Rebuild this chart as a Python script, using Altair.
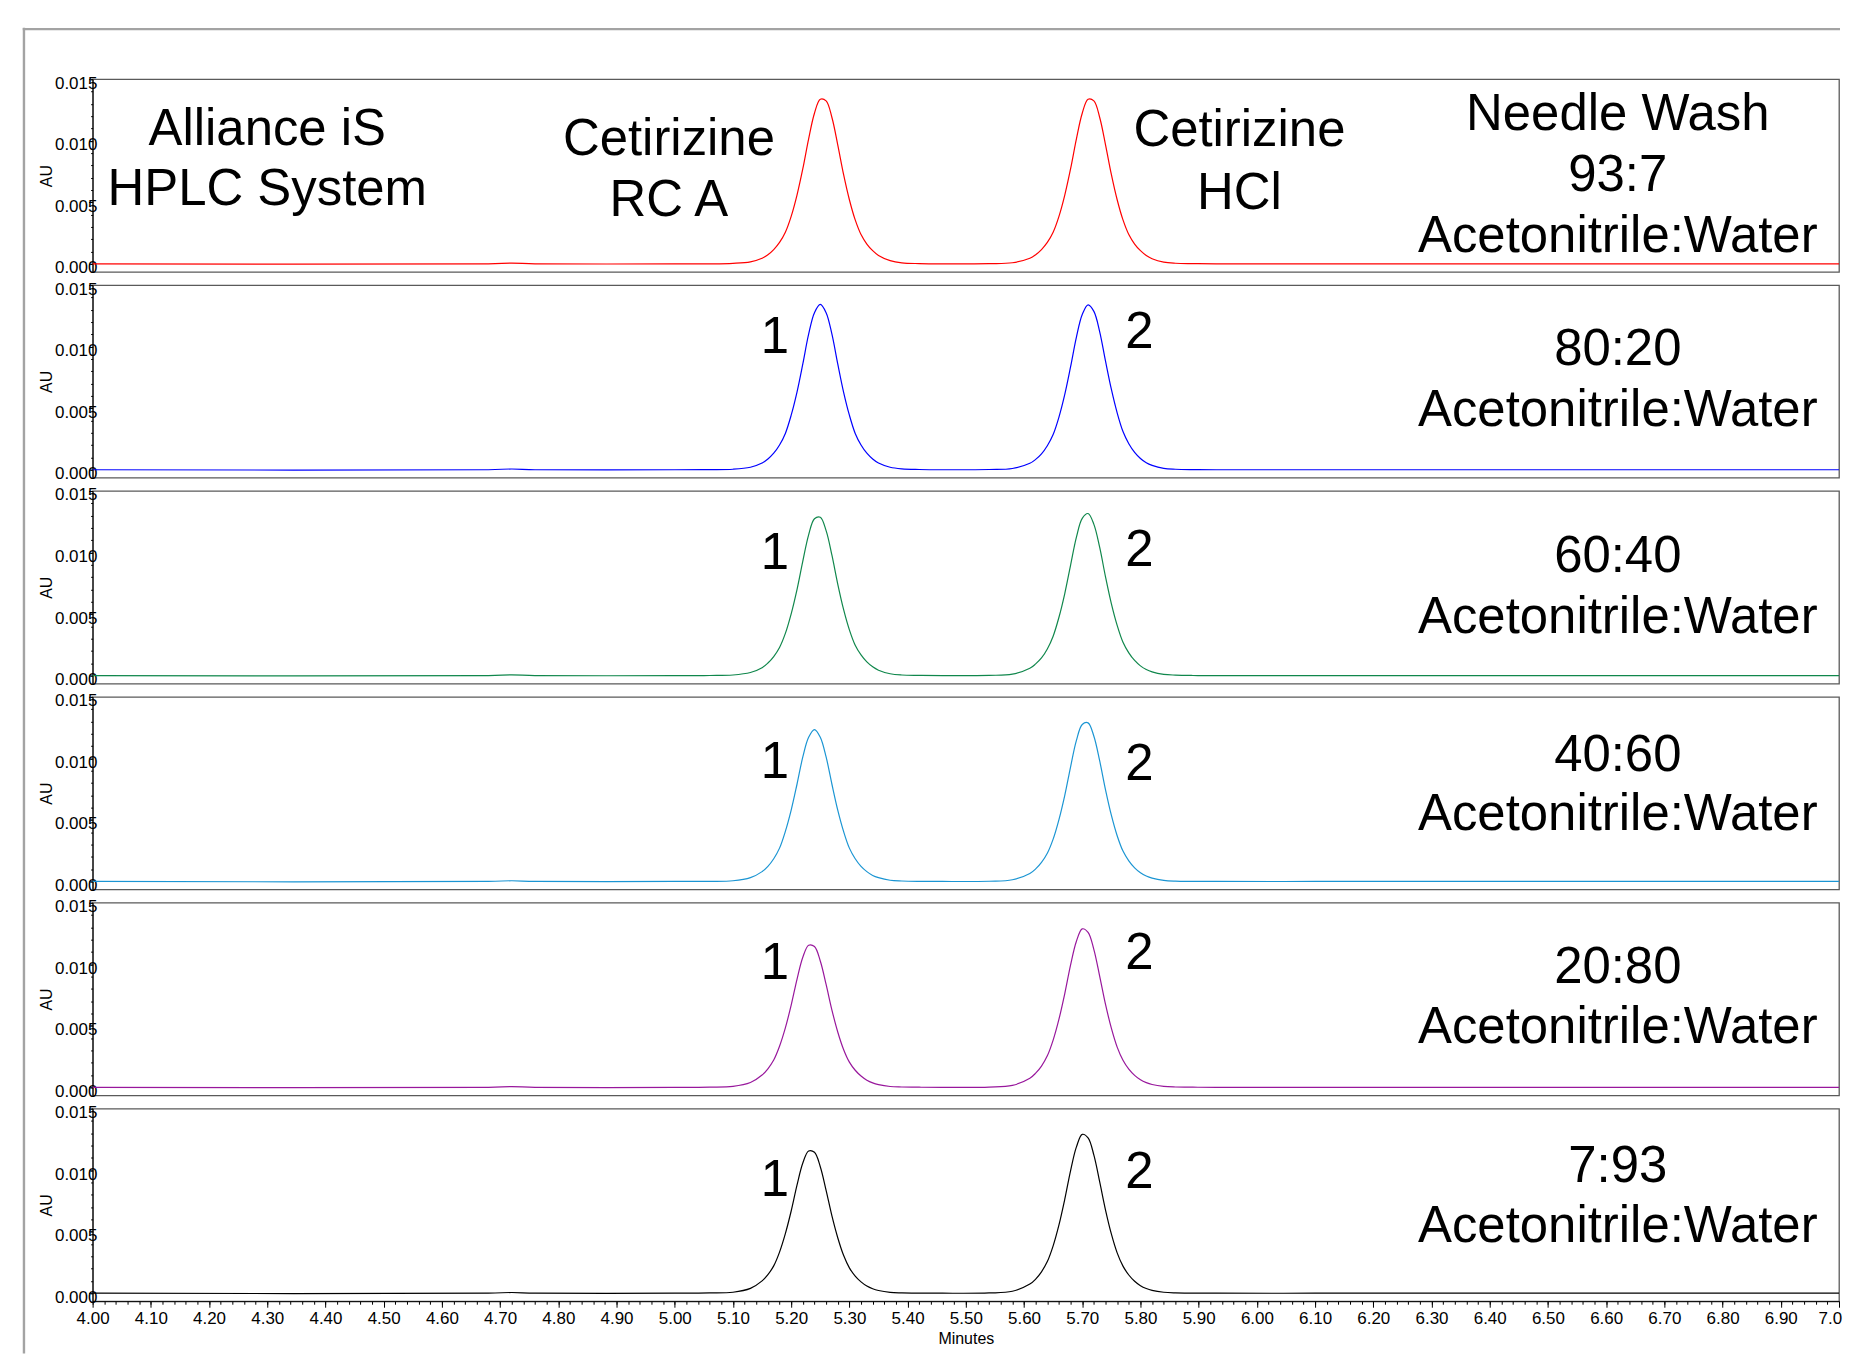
import altair as alt
import pandas as pd

# ---------------- data ----------------
minutes = [4.00, 4.68, 4.72, 4.76, 5.00, 5.06, 5.10, 5.13,
           5.15, 5.16, 5.17, 5.18, 5.19, 5.20, 5.21, 5.22, 5.23, 5.24, 5.25,
           5.26, 5.27, 5.28, 5.29, 5.30, 5.31, 5.32, 5.33, 5.34, 5.35,
           5.37, 5.39, 5.42, 5.46, 5.54, 5.58,
           5.61, 5.62, 5.63, 5.64, 5.65, 5.66, 5.67, 5.68, 5.69, 5.70, 5.71,
           5.72, 5.73, 5.74, 5.75, 5.76, 5.77, 5.78, 5.79, 5.80, 5.81, 5.82,
           5.84, 5.86, 5.89, 5.93, 6.10, 6.30, 7.00]

au_93_7 = [0, 0, 0.00006, 0, 0, 0.00000, 0.00004, 0.00016,
           0.00045, 0.00074, 0.00116, 0.00174, 0.00257, 0.00386, 0.00559, 0.00773, 0.01016, 0.01224, 0.01338,
           0.01324, 0.01189, 0.00967, 0.00727, 0.00521, 0.00357, 0.00238, 0.00161, 0.00107, 0.00068,
           0.00026, 0.00008, 0.00002, 0, 0.00002, 0.00009,
           0.00045, 0.00074, 0.00116, 0.00174, 0.00257, 0.00386, 0.00559, 0.00773, 0.01016, 0.01224, 0.01338,
           0.01324, 0.01189, 0.00967, 0.00727, 0.00521, 0.00357, 0.00238, 0.00161, 0.00107, 0.00068, 0.00042,
           0.00014, 0.00005, 0.00002, 0, 0, 0, 0]

au_80_20 = [0, 0, 0.00006, 0, 0, 0.00001, 0.00004, 0.00020,
            0.00054, 0.00087, 0.00134, 0.00201, 0.00295, 0.00443, 0.00631, 0.00860, 0.01101, 0.01276, 0.01343,
            0.01276, 0.01101, 0.00860, 0.00631, 0.00443, 0.00295, 0.00201, 0.00134, 0.00087, 0.00054,
            0.00020, 0.00007, 0.00002, 0, 0.00002, 0.00010,
            0.00052, 0.00084, 0.00129, 0.00195, 0.00286, 0.00428, 0.00612, 0.00837, 0.01078, 0.01261, 0.01340,
            0.01287, 0.01121, 0.00882, 0.00654, 0.00462, 0.00310, 0.00211, 0.00141, 0.00091, 0.00056, 0.00035,
            0.00011, 0.00004, 0.00001, 0, 0, 0, 0]

au_60_40 = [0, 0, 0.00006, 0, 0, 0.00001, 0.00005, 0.00025,
            0.00064, 0.00102, 0.00155, 0.00229, 0.00343, 0.00502, 0.00699, 0.00931, 0.01144, 0.01274, 0.01287,
            0.01178, 0.00978, 0.00744, 0.00538, 0.00372, 0.00247, 0.00168, 0.00111, 0.00071, 0.00044,
            0.00015, 0.00005, 0.00002, 0, 0.00002, 0.00012,
            0.00059, 0.00095, 0.00143, 0.00216, 0.00320, 0.00474, 0.00667, 0.00898, 0.01125, 0.01278, 0.01317,
            0.01229, 0.01041, 0.00802, 0.00585, 0.00408, 0.00271, 0.00185, 0.00123, 0.00079, 0.00049, 0.00030,
            0.00010, 0.00004, 0.00001, 0, 0, 0, 0]

au_40_60 = [0, 0, 0.00006, 0, 0, 0.00001, 0.00006, 0.00031,
            0.00080, 0.00123, 0.00185, 0.00271, 0.00407, 0.00580, 0.00790, 0.01012, 0.01172, 0.01234, 0.01172,
            0.01012, 0.00790, 0.00580, 0.00407, 0.00271, 0.00185, 0.00123, 0.00080, 0.00049, 0.00031,
            0.00010, 0.00004, 0.00001, 0, 0.00002, 0.00014,
            0.00065, 0.00102, 0.00155, 0.00229, 0.00344, 0.00503, 0.00700, 0.00932, 0.01146, 0.01276, 0.01289,
            0.01180, 0.00979, 0.00745, 0.00539, 0.00372, 0.00247, 0.00168, 0.00111, 0.00071, 0.00044, 0.00027,
            0.00009, 0.00003, 0.00001, 0, 0, 0, 0]

au_20_80 = [0, 0, 0.00006, 0, 0, 0.00002, 0.00008, 0.00039,
            0.00100, 0.00151, 0.00222, 0.00334, 0.00483, 0.00668, 0.00878, 0.01057, 0.01155, 0.01144, 0.01027,
            0.00836, 0.00628, 0.00450, 0.00308, 0.00205, 0.00139, 0.00092, 0.00058, 0.00036, 0.00022,
            0.00007, 0.00003, 0.00001, 0, 0.00002, 0.00016,
            0.00074, 0.00115, 0.00173, 0.00256, 0.00384, 0.00554, 0.00762, 0.00995, 0.01187, 0.01288, 0.01259,
            0.01119, 0.00902, 0.00674, 0.00481, 0.00327, 0.00220, 0.00148, 0.00097, 0.00061, 0.00038, 0.00023,
            0.00008, 0.00003, 0.00001, 0, 0, 0, 0]

au_7_93 = [0, 0, 0.00006, 0, 0, 0.00002, 0.00008, 0.00039,
           0.00100, 0.00151, 0.00222, 0.00334, 0.00484, 0.00668, 0.00878, 0.01058, 0.01156, 0.01145, 0.01028,
           0.00836, 0.00628, 0.00451, 0.00308, 0.00206, 0.00139, 0.00092, 0.00058, 0.00036, 0.00022,
           0.00007, 0.00003, 0.00001, 0, 0.00002, 0.00016,
           0.00074, 0.00115, 0.00174, 0.00257, 0.00385, 0.00555, 0.00764, 0.00997, 0.01189, 0.01291, 0.01262,
           0.01122, 0.00904, 0.00676, 0.00482, 0.00328, 0.00220, 0.00148, 0.00097, 0.00061, 0.00038, 0.00023,
           0.00008, 0.00003, 0.00001, 0, 0, 0, 0]

traces = [au_93_7, au_80_20, au_60_40, au_40_60, au_20_80, au_7_93]

# annotations of the top panel
top_labels = ["Alliance iS", "HPLC System", "Cetirizine", "RC A", "Cetirizine", "HCl",
              "Needle Wash", "93:7", "Acetonitrile:Water"]
top_label_min = [4.30, 4.30, 4.99, 4.99, 5.97, 5.97, 6.62, 6.62, 6.62]
top_label_au = [0.00963, 0.00477, 0.00882, 0.00387, 0.00955, 0.00445, 0.01085, 0.00593, 0.00099]

# annotations of the lower panels
ratios = ["80:20", "60:40", "40:60", "20:80", "7:93"]
solvent = "Acetonitrile:Water"
ratio_au = [0.00854, 0.00844, 0.00894, 0.00851, 0.00902]
solvent_au = [0.00354, 0.00344, 0.00419, 0.00359, 0.00413]
peak_names = ["1", "2"]
peak_label_min = [5.172, 5.798]
peak1_label_au = [0.00949, 0.00868, 0.00839, 0.00882, 0.00786]
peak2_label_au = [0.00989, 0.00889, 0.00825, 0.00963, 0.00854]
label_column_min = 6.62

major_x = [round(4.0 + 0.1 * i, 2) for i in range(31)]
minor_x = [round(4.0 + 0.02 * i, 2) for i in range(151)]
major_y = [0.0, 0.005, 0.010, 0.015]
minor_y = [round(0.001 * i, 3) for i in range(16)]

# ---------------- styles ----------------
colors = ["#ff0000", "#0000ff", "#10874c", "#1b95d3", "#98179c", "#000000"]
FONT = "Liberation Sans, Arial, Helvetica, sans-serif"
W, H = 1750, 193
xscale = alt.Scale(domain=[4.0, 7.0], nice=False, zero=False)
yscale = alt.Scale(domain=[-0.00065, 0.015], nice=False, zero=False)


def labels_frame(i):
    if i == 0:
        return pd.DataFrame({"minutes": top_label_min, "au": top_label_au, "label": top_labels})
    k = i - 1
    return pd.DataFrame({
        "minutes": [label_column_min, label_column_min, peak_label_min[0], peak_label_min[1]],
        "au": [ratio_au[k], solvent_au[k], peak1_label_au[k], peak2_label_au[k]],
        "label": [ratios[k], solvent, peak_names[0], peak_names[1]],
    })


def make_panel(i):
    df = pd.DataFrame({"minutes": minutes, "au": traces[i]})
    bottom = i == 5
    if bottom:
        x_main = alt.X("minutes:Q", scale=xscale, title="Minutes",
                       axis=alt.Axis(values=major_x, format=".2f", orient="bottom",
                                     tickSize=6, labelPadding=3,
                                     titlePadding=4, labelFontSize=17, titleFontSize=16,
                                     labelFlush=False, labelOverlap=False, grid=False,
                                     labelExpr="datum.value >= 6.995 ? '7.0' : datum.label",
                                     labelAlign={"condition": {"test": "datum.value >= 6.995",
                                                               "value": "left"},
                                                 "value": "center"},
                                     labelOffset={"condition": {"test": "datum.value >= 6.995",
                                                                "value": -21},
                                                  "value": 0},
                                     domainColor="black", tickColor="black"))
        x_minor = alt.X("minutes:Q", scale=xscale, title=None,
                        axis=alt.Axis(values=minor_x, labels=False, tickSize=3, domain=False,
                                      grid=False, orient="bottom", tickColor="black"))
    else:
        x_main = alt.X("minutes:Q", scale=xscale, axis=None)
        x_minor = alt.X("minutes:Q", scale=xscale, axis=None)

    y_main = alt.Y("au:Q", scale=yscale, title="AU",
                   axis=alt.Axis(values=major_y, format=".3f", orient="left",
                                 tickSize=4, labelPadding=-8.3,
                                 labelOffset=4, labelFontSize=17, titleFontSize=16, titlePadding=0,
                                 labelOverlap=False, labelFlush=False, grid=False,
                                 domainColor="black", tickColor="black"))
    y_minor = alt.Y("au:Q", scale=yscale, title=None,
                    axis=alt.Axis(values=minor_y, labels=False, tickSize=2, domain=False,
                                  grid=False, orient="left", tickColor="black"))

    minor = alt.Chart(df).mark_line(opacity=0).encode(x=x_minor, y=y_minor)
    line = alt.Chart(df).mark_line(color=colors[i], strokeWidth=1.2,
                                   interpolate="catmull-rom").encode(x=x_main, y=y_main)
    text = alt.Chart(labels_frame(i)).mark_text(
        font=FONT, fontSize=51, align="center", baseline="alphabetic", color="black"
    ).encode(
        x=alt.X("minutes:Q", scale=xscale, axis=None),
        y=alt.Y("au:Q", scale=yscale, axis=None),
        text="label:N",
    )
    layers = [line, minor, text]
    if i == 0:
        one = pd.DataFrame({"k": [0]})
        frame_left = alt.Chart(one).mark_rule(color="#a3a3a3", strokeWidth=2.4).encode(
            x=alt.value(-68.8), y=alt.value(-51.5), y2=alt.value(1277))
        frame_top = alt.Chart(one).mark_rule(color="#a3a3a3", strokeWidth=2.4).encode(
            x=alt.value(-70), x2=alt.value(1751), y=alt.value(-50.2))
        layers += [frame_left, frame_top]
    return alt.layer(*layers).resolve_axis(x="independent", y="independent").properties(
        width=W, height=H)


chart = alt.vconcat(*[make_panel(i) for i in range(6)], spacing=13.3, bounds="flush").properties(
    padding={"left": 12.8, "top": 16, "right": 0, "bottom": 0}
).configure_view(
    stroke="#5a5a5a", strokeWidth=1.3
).configure_axis(
    labelFont=FONT, titleFont=FONT, labelColor="black", titleColor="black",
    titleFontWeight="normal", grid=False
)

chart.save("out.html", embed_options={"renderer": "svg", "actions": False})
